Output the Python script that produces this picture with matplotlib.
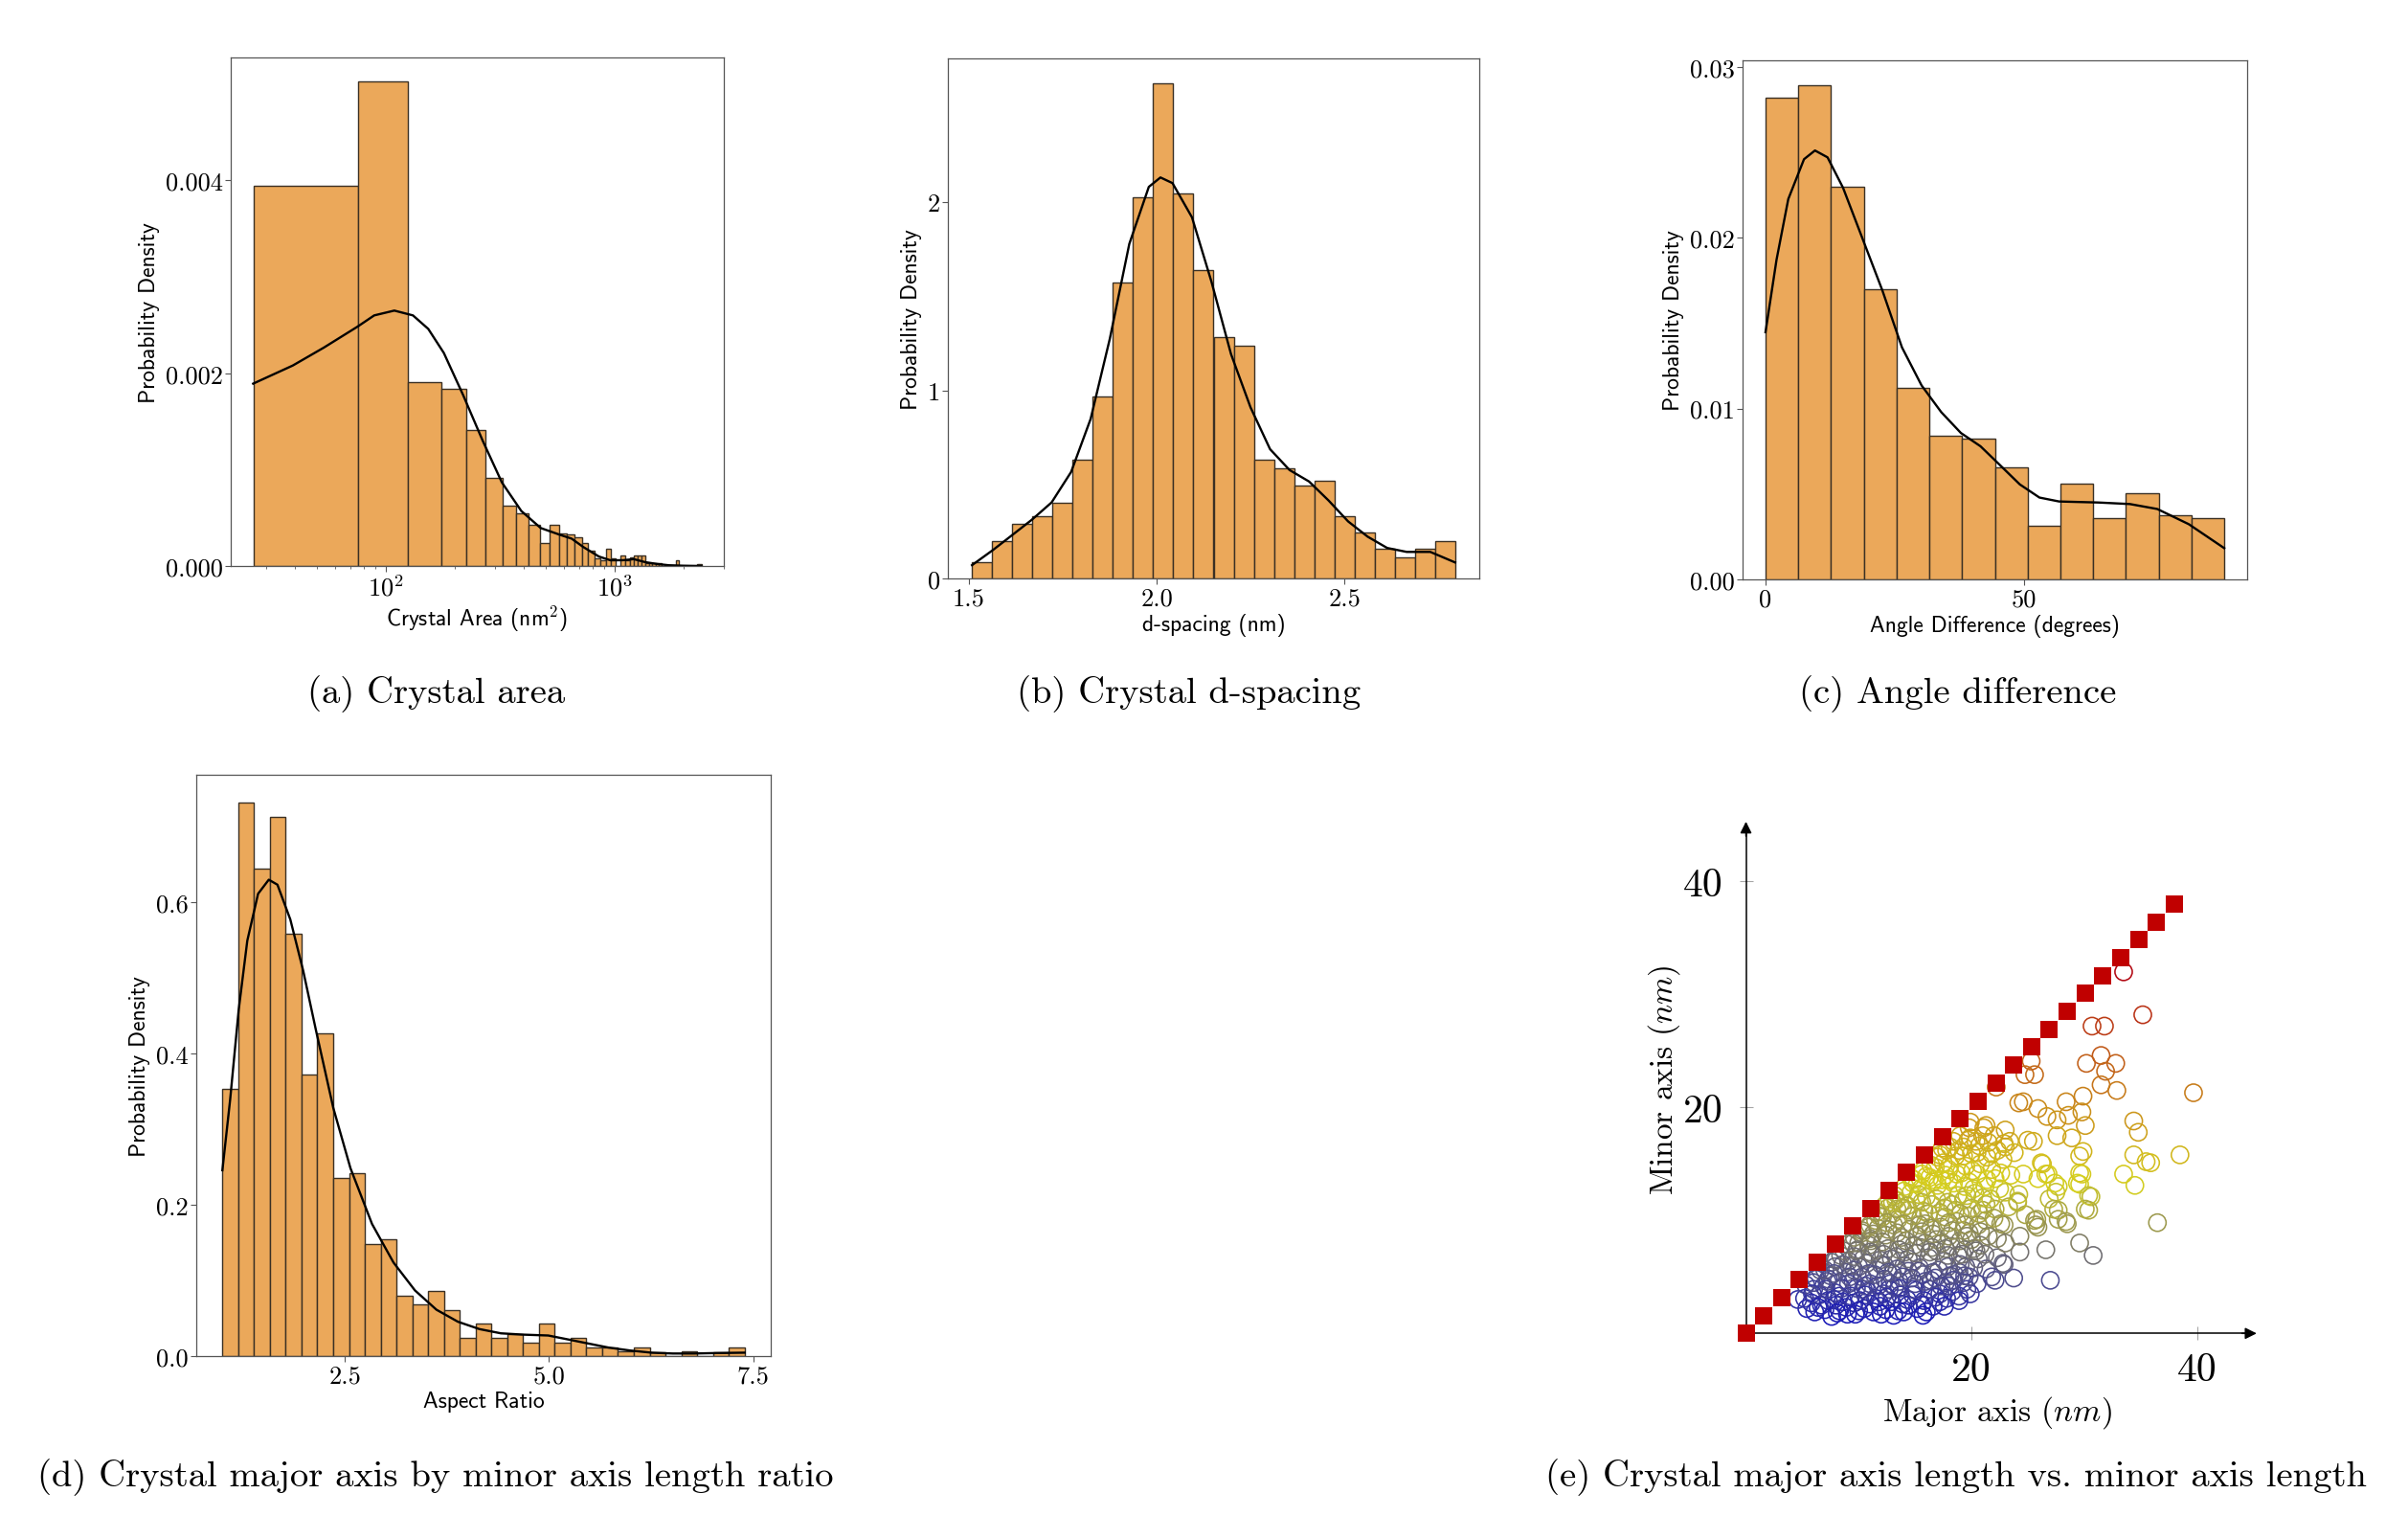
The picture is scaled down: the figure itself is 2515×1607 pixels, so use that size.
import numpy as np
import matplotlib
matplotlib.use("Agg")
import matplotlib.pyplot as plt
from matplotlib.colors import LinearSegmentedColormap, Normalize
from matplotlib.ticker import NullFormatter, LogLocator

plt.rcParams['mathtext.fontset'] = 'cm'
plt.rcParams['font.family'] = ['cmr10', 'DejaVu Serif']
plt.rcParams['axes.formatter.use_mathtext'] = True
plt.rcParams['axes.unicode_minus'] = False

# ---------------- data ----------------
# (a) crystal area histogram (linear bins on log axis)
area_range = (26.5, 2402.5)
area_density = [0.003945, 0.005025, 0.001911, 0.00184, 0.001407, 0.000914, 0.000623, 0.000544,
                0.000426, 0.000236, 0.000426, 0.000335, 0.00033, 0.0003, 0.000243, 0.000159,
                0.000083, 0.00006, 0.000183, 0.000076, 0.0, 0.00011, 0.00006, 0.00009,
                0.00011, 0.00011, 0.00011, 0.00003, 0.00003, 0.00003, 0.00003, 0.00003,
                0.0, 0.0, 0.0, 0.0, 0.0, 0.00006, 0.0, 0.0,
                0.0, 0.0, 0.0, 0.0, 0.0, 0.0, 0.000015, 0.000015]
area_kde_x = [26.3, 39.2, 53.6, 75.2, 89, 109, 131.5, 153.4, 179.5, 218, 265.4, 322, 391.5,
              476, 579, 650, 731, 855, 961, 1090, 1216, 1367, 1550, 1727, 2000, 2400]
area_kde_y = [0.001892, 0.00208, 0.002266, 0.002483, 0.0026, 0.00265, 0.0026, 0.00246, 0.00221,
              0.001773, 0.0013, 0.000867, 0.000571, 0.000394, 0.000323, 0.000284, 0.000197,
              0.0000985, 0.0000591, 0.00006, 0.0000709, 0.0000394, 0.00002, 0.0000079, 0.000003, 0.0]
area_xticks = [100, 1000]
area_xticklabels = [r'$10^{2}$', r'$10^{3}$']
area_yticks = [0.0, 0.002, 0.004]
area_yticklabels = ['0.000', '0.002', '0.004']

# (b) d-spacing histogram
dsp_range = (1.508, 2.795)
dsp_density = [0.087, 0.2, 0.291, 0.333, 0.404, 0.630, 0.966, 1.574, 2.024, 2.632, 2.048, 1.640,
               1.281, 1.236, 0.630, 0.584, 0.495, 0.517, 0.333, 0.246, 0.156, 0.111, 0.156, 0.2]
dsp_kde_x = [1.508, 1.564, 1.616, 1.668, 1.720, 1.772, 1.824, 1.875, 1.927, 1.979, 2.010, 2.042,
             2.094, 2.146, 2.198, 2.250, 2.302, 2.354, 2.406, 2.458, 2.510, 2.562, 2.614, 2.666,
             2.729, 2.795]
dsp_kde_y = [0.0707, 0.1515, 0.232, 0.313, 0.404, 0.566, 0.848, 1.273, 1.778, 2.081, 2.131, 2.101,
             1.919, 1.576, 1.192, 0.909, 0.687, 0.576, 0.515, 0.414, 0.303, 0.222, 0.162, 0.141,
             0.141, 0.085]
dsp_xticks = [1.5, 2.0, 2.5]
dsp_xticklabels = ['1.5', '2.0', '2.5']
dsp_yticks = [0, 1, 2]
dsp_yticklabels = ['0', '1', '2']

# (c) angle difference histogram
ang_range = (0.0, 88.75)
ang_density = [0.0282, 0.02893, 0.02297, 0.0170, 0.0112, 0.00841, 0.00823, 0.00657, 0.00316,
               0.00561, 0.00356, 0.00505, 0.00374, 0.00356]
ang_kde_x = [0, 2.13, 4.41, 7.45, 9.57, 12.0, 15.0, 18.8, 22.6, 26.4, 30.2, 34.0, 37.8, 41.6,
             45.4, 49.2, 53.0, 56.8, 64.4, 70.5, 75.8, 81.9, 88.75]
ang_kde_y = [0.01447, 0.0187, 0.02226, 0.02459, 0.0251, 0.0247, 0.02292, 0.01992, 0.01692,
             0.01358, 0.01135, 0.00979, 0.00857, 0.00779, 0.00668, 0.00556, 0.00479, 0.00456,
             0.0045, 0.00441, 0.00412, 0.00323, 0.00183]
ang_xticks = [0, 50]
ang_xticklabels = ['0', '50']
ang_yticks = [0.0, 0.01, 0.02, 0.03]
ang_yticklabels = ['0.00', '0.01', '0.02', '0.03']

# (d) aspect ratio histogram
ar_range = (1.0, 7.395)
ar_density = [0.3534, 0.7317, 0.6444, 0.7124, 0.5576, 0.3721, 0.4271, 0.2348, 0.2416, 0.148,
              0.1548, 0.08, 0.0681, 0.0862, 0.0613, 0.0244, 0.0431, 0.0244, 0.0295, 0.0182,
              0.0425, 0.0182, 0.0244, 0.0113, 0.0113, 0.0057, 0.0119, 0.0045, 0.0, 0.0057,
              0.0, 0.0051, 0.0119]
ar_kde_x = [1.0, 1.095, 1.2, 1.305, 1.437, 1.568, 1.674, 1.832, 1.99, 2.147, 2.358, 2.568, 2.832,
            3.095, 3.358, 3.621, 3.884, 4.147, 4.41, 4.674, 4.99, 5.2, 5.463, 5.726, 5.99, 6.253,
            6.516, 6.779, 7.042, 7.395]
ar_kde_y = [0.2456, 0.339, 0.458, 0.549, 0.611, 0.6296, 0.623, 0.577, 0.509, 0.43, 0.328, 0.2484,
            0.1747, 0.1237, 0.0868, 0.0613, 0.0454, 0.0357, 0.0301, 0.0284, 0.0272, 0.0227, 0.017,
            0.0113, 0.0074, 0.0045, 0.0034, 0.0034, 0.004, 0.0045]
ar_xticks = [2.5, 5.0, 7.5]
ar_xticklabels = ['2.5', '5.0', '7.5']
ar_yticks = [0.0, 0.2, 0.4, 0.6]
ar_yticklabels = ['0.0', '0.2', '0.4', '0.6']

# (e) major vs minor axis scatter
major_axis = [
    33.5, 35.2, 30.7, 31.8, 31.5, 30.2, 32.8, 31.9, 31.5, 32.9, 39.7, 25.3, 24.75, 25.6, 22.2,
    24.2, 24.6, 25.9, 28.4, 29.9, 26.7, 27.6, 28.6, 29.8, 30.1, 27.6, 28.9, 29.9, 29.6, 34.4,
    34.8, 25.0, 25.5, 22.9, 23.0, 21.3, 21.1, 19.9, 19.7, 26.3, 26.8, 25.9, 24.6, 38.5, 34.4,
    35.5, 35.9, 33.5, 34.5, 29.8, 29.6, 30.6, 30.4, 27.7, 27.5, 26.9, 27.7, 28.5, 25.8, 25.9,
    24.8, 24.2, 24.1, 36.5, 29.6, 30.8, 26.6, 24.3, 24.3, 22.9, 22.3, 22.3, 22.9, 21.3, 23.75,
    27.0, 22.1, 19.9, 19.4, 20.2, 20.2, 19.0, 19.8, 21.3, 21.0, 22.1, 21.7, 22.5, 22.1, 29.4,
    29.6, 30.1, 30.4, 27.7, 27.3, 25.7, 25.6, 28.4, 26.2, 26.6, 27.4, 24.1, 22.6, 22.8, 21.2,
    5.4, 6.1, 7.0, 7.6, 8.3, 9.0, 9.7, 10.5, 11.3, 12.4, 13.1, 13.5, 14.4, 15.2, 16.0, 17.2,
    17.8, 18.3, 16.6, 11.9,
    4.6, 5.2, 5.8, 6.5, 7.3, 7.9, 8.6, 9.3, 10.1, 10.8, 11.5, 12.2, 12.9, 13.7, 14.3, 15.1,
    15.8, 16.3, 17.2, 18.9, 19.6, 18.0, 6.0, 9.8, 13.2, 11.0, 8.0,
    5.3, 6.2, 6.9, 7.5, 8.2, 8.9, 9.5, 10.3, 11.0, 11.6, 12.3, 13.0, 13.6, 14.4, 15.0, 15.7,
    16.4, 17.1, 17.7, 18.5, 18.9, 19.5, 16.3, 14.0, 12.0, 10.0, 7.9, 6.6,
    7.6, 8.4, 9.1, 9.8, 10.4, 11.2, 11.9, 12.6, 13.3, 14.1, 14.8, 15.5, 16.2, 16.9, 17.6, 18.2,
    18.8, 19.4, 20.6, 9.0, 10.9, 13.8, 15.9, 17.4, 12.3,
    9.6, 10.3, 11.0, 11.7, 12.4, 13.1, 13.8, 14.5, 15.2, 15.9, 16.6, 17.3, 18.0, 18.7, 19.3,
    20.0, 20.6, 11.5, 13.5, 15.5, 17.7, 19.7,
    11.6, 12.3, 13.0, 13.7, 14.4, 15.1, 15.8, 16.5, 17.2, 17.9, 18.6, 19.3, 20.0, 20.7, 13.2,
    14.6, 16.0, 17.4, 18.8, 20.3, 21.3, 12.7,
    14.1, 14.9, 15.6, 16.3, 17.0, 17.7, 18.4, 19.1, 19.8, 20.5, 21.2, 15.7, 16.8, 18.1, 19.5,
    20.8, 21.8, 17.5,
    17.0, 17.8, 18.6, 19.3, 20.0, 20.7, 21.4, 18.4, 19.9, 21.0, 22.3, 23.4, 22.8, 21.5,
    23.5, 23.0, 23.3, 22.0, 23.0, 21.5, 20.8, 21.8, 20.5, 19.3,
    6.7, 7.8, 8.9, 9.6, 10.6, 11.8, 12.7, 13.9, 14.8, 15.6, 16.8,
    6.0, 7.2, 8.5, 9.2, 10.6, 11.4, 12.8, 13.4, 14.7, 15.4, 16.8, 17.9,
    8.0, 9.4, 10.7, 11.6, 12.9, 14.4, 15.1, 16.5, 17.9, 19.0,
    10.0, 11.3, 12.1, 13.4, 14.2, 15.6, 16.9, 18.3, 19.6,
    12.1, 13.4, 14.8, 16.2, 17.6, 19.0,
    15.2, 16.6, 18.0, 19.4, 20.2,
    6.2, 7.0, 7.9, 8.7, 9.5, 10.3, 11.0, 11.8, 12.6, 13.3, 14.0, 14.8, 15.6, 16.4, 17.2, 18.1,
    19.0, 19.8,
    7.3, 8.6, 9.9, 11.1, 12.5, 13.9, 15.3, 16.7, 18.0, 19.3, 20.5,
    5.9, 7.1, 8.3, 9.1, 10.4, 11.7, 12.5, 13.6, 14.9, 15.9, 17.3, 18.4,
    6.4, 8.1, 10.0, 12.0, 14.0, 15.7, 17.6, 18.9,
    7.8, 9.6, 10.9, 12.6, 13.9, 15.3, 16.6, 18.1, 19.8,
    9.6, 11.0, 12.2, 13.6, 14.9, 16.3, 17.7, 19.2, 20.4,
    10.9, 12.6, 14.0, 15.4, 16.4, 18.0, 19.4, 20.8,
    13.0, 14.3, 15.6, 16.9, 18.3, 19.6, 21.0,
    14.6, 16.0, 17.4, 18.7, 20.1, 21.4,
    17.4, 18.9, 20.4, 22.0, 21.8, 23.0, 23.8, 22.6]
minor_axis = [
    32.0, 28.2, 27.2, 27.2, 24.6, 23.9, 23.9, 23.2, 22.0, 21.5, 21.3, 24.1, 22.9, 22.9, 21.8,
    20.4, 20.5, 19.9, 20.5, 21.0, 19.2, 18.9, 19.3, 19.6, 18.4, 17.5, 17.3, 16.1, 15.7, 18.8,
    17.8, 17.1, 17.0, 16.8, 16.5, 18.4, 18.2, 18.7, 17.1, 15.0, 14.1, 13.7, 14.1, 15.8, 15.8,
    15.2, 15.1, 14.1, 13.1, 14.1, 13.2, 12.1, 10.9, 13.0, 12.5, 11.9, 10.1, 9.7, 10.1, 9.4,
    10.5, 12.3, 11.6, 9.8, 8.0, 6.9, 7.4, 7.2, 8.6, 9.6, 8.4, 6.7, 6.1, 5.7, 4.9,
    4.7, 4.7, 3.5, 5.1, 5.8, 7.5, 8.2, 8.9, 10.0, 10.9, 11.0, 11.9, 12.8, 13.7, 13.3,
    14.2, 11.0, 12.2, 10.9, 11.0, 9.6, 10.0, 9.9, 15.1, 14.1, 13.3, 11.7, 9.7, 6.2, 7.0,
    2.2, 1.9, 2.1, 1.5, 2.0, 1.7, 1.7, 2.2, 1.9, 2.1, 1.6, 2.0, 2.5, 2.2, 1.9, 2.8,
    3.1, 3.7, 2.4, 2.4,
    3.0, 3.1, 2.7, 3.4, 2.9, 3.6, 2.8, 3.3, 2.9, 3.7, 3.1, 3.5, 2.8, 3.4, 3.0, 3.8,
    2.9, 3.9, 3.5, 3.3, 3.9, 4.2, 3.9, 4.0, 4.1, 2.6, 2.5,
    4.3, 4.8, 4.2, 5.1, 4.5, 5.4, 4.6, 5.0, 4.4, 5.6, 4.8, 5.3, 4.6, 5.5, 4.4, 5.2,
    4.7, 5.6, 4.5, 5.2, 5.4, 5.9, 3.9, 6.0, 6.1, 5.9, 5.9, 5.6,
    6.3, 6.9, 6.4, 7.3, 6.6, 7.0, 6.5, 7.5, 6.8, 7.2, 6.3, 7.6, 6.7, 7.3, 6.4, 7.7,
    6.9, 7.4, 6.6, 7.9, 7.8, 7.9, 8.0, 8.0, 6.0,
    8.5, 9.1, 8.4, 9.3, 8.7, 9.6, 8.5, 9.2, 8.6, 9.7, 8.8, 9.4, 8.6, 9.9, 9.1,
    8.3, 9.6, 10.0, 10.1, 10.2, 10.3, 10.4,
    10.7, 11.3, 10.6, 11.5, 10.9, 11.8, 10.8, 11.4, 10.7, 11.6, 10.9, 11.8, 11.1, 10.6, 12.2,
    12.4, 12.1, 12.5, 12.2, 12.4, 11.4, 11.9,
    13.0, 13.6, 12.9, 13.8, 13.1, 14.0, 13.3, 14.2, 13.4, 14.1, 13.0, 14.4, 14.7, 14.9, 14.8,
    15.0, 14.5, 15.1,
    15.6, 16.2, 15.7, 16.5, 15.9, 16.6, 15.6, 17.0, 17.3, 17.5, 16.2, 17.0, 15.4, 16.9,
    14.0, 12.5, 11.2, 10.2, 8.0, 8.6, 7.8, 5.0, 4.4, 4.5,
    2.5, 3.0, 2.3, 2.7, 3.4, 2.8, 3.9, 2.6, 3.4, 2.5, 3.2,
    4.5, 4.6, 4.0, 5.0, 4.2, 5.2, 4.4, 5.7, 4.9, 5.8, 4.9, 5.9,
    6.5, 6.0, 6.2, 7.4, 6.6, 6.6, 7.1, 7.6, 6.9, 6.1,
    8.0, 8.8, 8.1, 8.9, 8.2, 9.0, 8.3, 9.1, 8.6,
    10.3, 11.0, 10.4, 10.6, 11.1, 10.6,
    13.2, 13.4, 13.6, 13.0, 12.8,
    4.9, 5.6, 6.6, 7.3, 8.0, 8.9, 9.6, 10.4, 11.1, 11.8, 12.6, 13.3, 14.1, 14.9, 15.8, 16.5,
    17.5, 18.2,
    4.8, 6.1, 7.4, 8.2, 9.8, 11.1, 12.3, 13.6, 14.5, 15.7, 16.0,
    3.5, 3.9, 3.3, 4.4, 3.9, 4.2, 3.2, 4.0, 3.9, 4.6, 4.2, 4.7,
    2.3, 1.8, 2.0, 1.7, 1.9, 1.6, 2.4, 2.9,
    5.3, 5.6, 5.3, 5.4, 5.0, 5.5, 5.4, 5.1, 5.0,
    6.8, 7.2, 7.0, 7.4, 7.8, 7.2, 7.5, 7.0, 7.3,
    9.4, 9.2, 9.7, 9.6, 9.3, 9.8, 9.6, 9.0,
    11.6, 11.3, 11.6, 11.9, 11.4, 12.2, 12.0,
    13.8, 13.9, 13.6, 14.1, 14.4, 13.6,
    16.4, 16.2, 17.0, 17.5, 15.9, 18.0, 16.0, 14.2]
diag_values = [0, 1.58, 3.17, 4.75, 6.33, 7.92, 9.5, 11.08, 12.67, 14.25, 15.83, 17.42, 19.0,
               20.58, 22.17, 23.75, 25.33, 26.92, 28.5, 30.08, 31.67, 33.25, 34.83, 36.42, 38.0]
scatter_ticks = [20, 40]
scatter_ticklabels = ['20', '40']

captions = ['(a) Crystal area', '(b) Crystal d-spacing', '(c) Angle difference',
            '(d) Crystal major axis by minor axis length ratio',
            '(e) Crystal major axis length vs. minor axis length']

# ---------------- styles ----------------
FILL = '#EBA85A'
EDGE = '#3a3024'
SPINE = '#555555'
TICKSIZE = 19
LABELSIZE = 17
SANS = 'cmss10'

fig = plt.figure(figsize=(25.15, 16.08), dpi=100)
W, H = 2515.0, 1608.0


def box(l, t, r, b):
    return [l / W, 1 - b / H, (r - l) / W, (b - t) / H]


def hist_panel(rect, rng, dens, kx, ky, xt, xtl, yt, ytl, xlabel, log=False):
    ax = fig.add_axes(rect)
    edges = np.linspace(rng[0], rng[1], len(dens) + 1)
    ax.bar(edges[:-1], dens, width=np.diff(edges), align='edge', color=FILL,
           edgecolor=EDGE, linewidth=1.0)
    ax.plot(kx, ky, color='black', lw=1.7)
    if log:
        ax.set_xscale('log')
        ax.xaxis.set_minor_locator(LogLocator(base=10, subs=np.arange(2, 10)))
        ax.xaxis.set_minor_formatter(NullFormatter())
    ax.set_xticks(xt, labels=xtl)
    ax.set_yticks(yt, labels=ytl)
    ax.tick_params(which='major', direction='out', length=4, width=0.8, color=SPINE,
                   labelsize=TICKSIZE, pad=2)
    ax.tick_params(which='minor', direction='out', length=2.5, width=0.6, color=SPINE)
    for s in ax.spines.values():
        s.set_color(SPINE)
        s.set_linewidth(0.9)
    ax.set_ylabel('Probability Density', fontfamily=SANS, fontsize=LABELSIZE, labelpad=4)
    ax.set_xlabel(xlabel, fontfamily=SANS, fontsize=LABELSIZE, labelpad=3)
    return ax


hist_panel(box(241, 61, 756, 592), area_range, area_density, area_kde_x, area_kde_y,
           area_xticks, area_xticklabels, area_yticks, area_yticklabels,
           r'Crystal Area (nm$^{2}$)', log=True)
hist_panel(box(990, 62, 1545, 605), dsp_range, dsp_density, dsp_kde_x, dsp_kde_y,
           dsp_xticks, dsp_xticklabels, dsp_yticks, dsp_yticklabels, 'd-spacing (nm)')
hist_panel(box(1820, 64, 2347, 606), ang_range, ang_density, ang_kde_x, ang_kde_y,
           ang_xticks, ang_xticklabels, ang_yticks, ang_yticklabels, 'Angle Difference (degrees)')
hist_panel(box(205, 810, 805, 1417), ar_range, ar_density, ar_kde_x, ar_kde_y,
           ar_xticks, ar_xticklabels, ar_yticks, ar_yticklabels, 'Aspect Ratio')

# ---------------- (e) scatter ----------------
axe = fig.add_axes([0.7157, 0.11884, 0.2294, 0.3595])
axe.set_xlim(-2, 47)
axe.set_ylim(-2, 47)
cmap = LinearSegmentedColormap.from_list('byr', [(0.0, (0.10, 0.10, 0.72)),
                                                  (0.39, (0.84, 0.82, 0.12)),
                                                  (1.0, (0.70, 0.04, 0.08))])
norm = Normalize(vmin=1.5, vmax=32.0)
axe.scatter(major_axis, minor_axis, s=170, facecolors='none',
            edgecolors=cmap(norm(np.array(minor_axis))), linewidths=1.15, zorder=2)
axe.scatter(diag_values, diag_values, s=165, marker='s', color='#C00000', linewidths=0,
            zorder=3, clip_on=False)
for side in ['top', 'right']:
    axe.spines[side].set_visible(False)
for side in ['left', 'bottom']:
    axe.spines[side].set_position(('data', 0))
    axe.spines[side].set_bounds(0, 44.5)
    axe.spines[side].set_color('black')
    axe.spines[side].set_linewidth(1.1)
axe.annotate('', xy=(45.3, 0), xytext=(44.0, 0),
             arrowprops=dict(arrowstyle='-|>', color='black', lw=1.1, mutation_scale=18,
                             shrinkA=0, shrinkB=0))
axe.annotate('', xy=(0, 45.3), xytext=(0, 44.0),
             arrowprops=dict(arrowstyle='-|>', color='black', lw=1.1, mutation_scale=18,
                             shrinkA=0, shrinkB=0))
axe.set_xticks(scatter_ticks, labels=scatter_ticklabels)
axe.set_yticks(scatter_ticks, labels=scatter_ticklabels)
axe.tick_params(axis='x', direction='inout', length=10, width=0.8, color='0.65',
                labelsize=30, pad=9)
axe.tick_params(axis='y', direction='inout', length=10, width=0.8, color='0.65',
                labelsize=30, pad=12)
axe.text(22.3, -6.9, r'Major axis ($nm$)', fontsize=24, ha='center', va='center')
axe.text(-7.3, 22.5, r'Minor axis ($nm$)', fontsize=24, ha='center', va='center',
         rotation=90)

# ---------------- captions ----------------
cap_pos = [(456, 725), (1242, 725), (2045, 725), (455, 1543), (2043, 1543)]
for txt, (cx, cy) in zip(captions, cap_pos):
    fig.text(cx / W, 1 - cy / H, txt, fontsize=27.8, ha='center', va='center')

fig.savefig('out.png', dpi=100, facecolor='white')
